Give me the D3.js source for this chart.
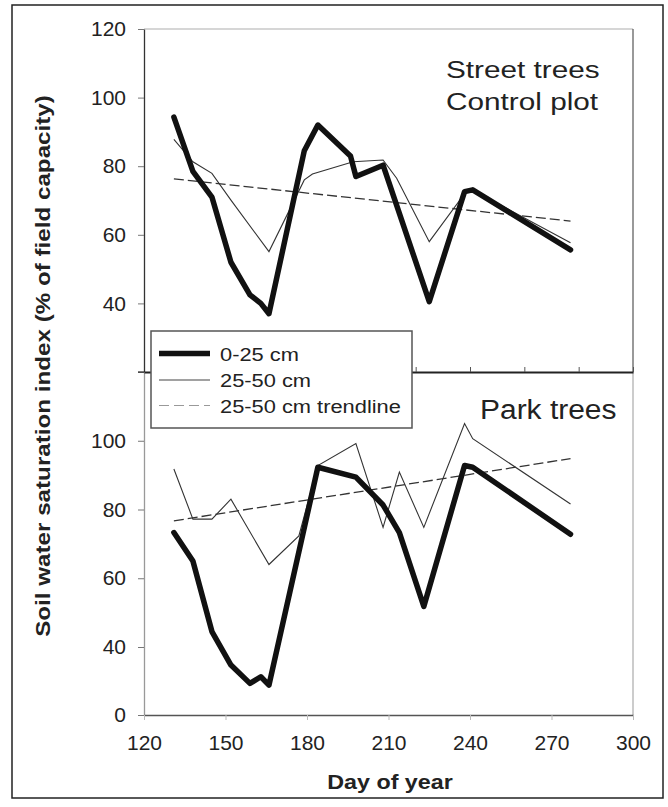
<!DOCTYPE html>
<html>
<head>
<meta charset="utf-8">
<script src="https://cdn.jsdelivr.net/npm/d3@7/dist/d3.min.js"></script>
<style>
  html, body { margin: 0; padding: 0; background: #fff; }
  svg { display: block; }
</style>
</head>
<body>
<svg id="chart" width="668" height="807"></svg>
<script>
// ---------------- DATA ----------------
// Street trees / control plot (top panel)
const streetThickDays = [131,138,145,152,159,163,166,179,184,196,198,208,225,238,241,277];
const streetThickVals = [94.3,78.5,71,52,42.5,40,37,84.5,92,83,77,80.3,40.5,72.6,73.1,55.6];
const streetThinDays  = [131,138,145,152,166,179,182,197,208,213,225,238,241,277];
const streetThinVals  = [87.8,81.3,77.9,70.1,55.1,76,77.7,81.3,81.8,76.5,58,72,73,57.7];
const streetTrendDays = [131,277];
const streetTrendVals = [76.3,64.0];

// Park trees (bottom panel)
const parkThickDays = [131,138,145,152,159,163,166,184,198,208,214,223,238,241,277];
const parkThickVals = [73.3,65,44.5,29.4,18.6,22.5,17.6,92.3,89.4,81.3,73.3,51.8,92.8,92.3,72.8];
const parkThinDays  = [131,138,145,152,166,177,184,198,208,214,223,238,241,277];
const parkThinVals  = [91.8,77.2,77.2,83,64,72.3,92.8,99.2,74.8,90.9,74.8,105,100.6,81.6];
const parkTrendDays = [131,277];
const parkTrendVals = [76.7,94.8];

// Tick labels
const xTickLabels      = ["120","150","180","210","240","270","300"];
const topXTicks        = [220,240,260,280,300];
const topYTickLabels   = ["40","60","80","100","120"];
const botYTickLabels   = ["0","40","60","80","100"];

const legendLabels = ["0-25 cm","25-50 cm","25-50 cm trendline"];
const panelTitles  = ["Street trees","Control plot","Park trees"];
const xTitle = "Day of year";
const yTitle = "Soil water saturation index (% of field capacity)";

// ---------------- LAYOUT ----------------
const svg = d3.select("#chart");
const FONT = "'Liberation Sans', Arial, Helvetica, sans-serif";

const x = d3.scaleLinear().domain([120,300]).range([144,633]);
const yTop = d3.scaleLinear().domain([20,120]).range([372,29]);
const yBot = d3.scaleLinear().domain([0,40,120]).range([715,647,372]);

// outer frame
svg.append("rect").attr("x",12).attr("y",5).attr("width",651).attr("height",793)
  .attr("fill","none").attr("stroke","#222").attr("stroke-width",1.5);

// panel frames
svg.append("line").attr("x1",144).attr("x2",633).attr("y1",29).attr("y2",29)
  .attr("stroke","#c8c8c8").attr("stroke-width",1.5);
svg.append("line").attr("x1",633).attr("x2",633).attr("y1",29).attr("y2",372)
  .attr("stroke","#555").attr("stroke-width",1.2);
svg.append("line").attr("x1",633).attr("x2",633).attr("y1",372).attr("y2",715)
  .attr("stroke","#aaa").attr("stroke-width",1.2);

function styleAxis(g, color, width) {
  g.select(".domain").attr("stroke", color).attr("stroke-width", width);
  g.selectAll(".tick line").attr("stroke", "#777").attr("stroke-width", 1);
  g.selectAll(".tick text").attr("fill","#222").style("font-family", FONT);
}

// top panel y axis
const gTopY = svg.append("g").attr("transform","translate(144,0)")
  .call(d3.axisLeft(yTop)
    .tickValues([20].concat(topYTickLabels.map(Number)))
    .tickSizeInner(6).tickSizeOuter(0).tickPadding(12)
    .tickFormat(d => topYTickLabels.includes(String(d)) ? String(d) : ""));
styleAxis(gTopY, "#333", 1.3);
gTopY.selectAll(".tick text").style("font-size","21px");

// bottom panel y axis
const gBotY = svg.append("g").attr("transform","translate(144,0)")
  .call(d3.axisLeft(yBot)
    .tickValues(botYTickLabels.map(Number))
    .tickSizeInner(6).tickSizeOuter(0).tickPadding(12)
    .tickFormat(d => String(d)));
styleAxis(gBotY, "#999", 1.3);
gBotY.selectAll(".tick text").style("font-size","21px");

// bottom x axis
const gBotX = svg.append("g").attr("transform","translate(0,715)")
  .call(d3.axisBottom(x)
    .tickValues(xTickLabels.map(Number))
    .tickSizeInner(5).tickSizeOuter(0).tickPadding(8)
    .tickFormat(d => String(d)));
styleAxis(gBotX, "#555", 1.5);
gBotX.selectAll(".tick line").attr("stroke","#bbb");
gBotX.selectAll(".tick text").style("font-size","21px").attr("y",35).attr("dy",0);

// ---------------- LINES ----------------
function drawSeries(days, vals, yScale, cls) {
  const pts = days.map((d,i) => [d, vals[i]]);
  const line = d3.line().x(p => x(p[0])).y(p => yScale(p[1]));
  const path = svg.append("path").datum(pts).attr("d", line).attr("fill","none");
  if (cls === "thick") path.attr("stroke","#111").attr("stroke-width",5.5).attr("stroke-linejoin","round").attr("stroke-linecap","round");
  if (cls === "thin")  path.attr("stroke","#333").attr("stroke-width",1.1);
  if (cls === "trend") path.attr("stroke","#333").attr("stroke-width",1.3).attr("stroke-dasharray","10,4");
}
drawSeries(streetTrendDays, streetTrendVals, yTop, "trend");
drawSeries(streetThinDays,  streetThinVals,  yTop, "thin");
drawSeries(streetThickDays, streetThickVals, yTop, "thick");
drawSeries(parkTrendDays, parkTrendVals, yBot, "trend");
drawSeries(parkThinDays,  parkThinVals,  yBot, "thin");
drawSeries(parkThickDays, parkThickVals, yBot, "thick");

// top panel x axis / divider (drawn after lines)
const gTopX = svg.append("g").attr("transform","translate(0,372)")
  .call(d3.axisBottom(x).tickValues(topXTicks).tickSizeInner(-5).tickSizeOuter(0).tickFormat(() => ""));
gTopX.select(".domain").attr("stroke","#222").attr("stroke-width",2);
gTopX.selectAll(".tick line").attr("stroke","#555");
svg.append("line").attr("x1",138).attr("x2",144).attr("y1",372).attr("y2",372).attr("stroke","#333").attr("stroke-width",1.3);

// ---------------- TEXT HELPERS ----------------
function stretchText(str, tx, ty, size, sx, opts = {}) {
  const g = svg.append("g").attr("transform", `translate(${tx},${ty})${opts.rotate ? " rotate(" + opts.rotate + ")" : ""}`);
  g.append("text").attr("transform", `scale(${sx},1)`)
    .attr("text-anchor", opts.anchor || "start")
    .style("font-family", FONT).style("font-size", size + "px")
    .style("font-weight", opts.bold ? "bold" : "normal")
    .attr("fill", "#222").text(str);
  return g;
}

// ---------------- LEGEND ----------------
svg.append("rect").attr("x",151).attr("y",331).attr("width",261).attr("height",97)
  .attr("fill","#fff").attr("stroke","#555").attr("stroke-width",1.5);
const legendY = [353.5, 380, 405.5];
const legendStyles = ["thick","thin","trend"];
legendLabels.forEach((lab, i) => {
  const l = svg.append("line").attr("x1",159).attr("x2",210).attr("y1",legendY[i]).attr("y2",legendY[i]);
  if (legendStyles[i] === "thick") l.attr("stroke","#111").attr("stroke-width",5.5);
  if (legendStyles[i] === "thin")  l.attr("stroke","#444").attr("stroke-width",1.1);
  if (legendStyles[i] === "trend") l.attr("stroke","#999").attr("stroke-width",1.1).attr("stroke-dasharray","10,5");
  stretchText(lab, 220, legendY[i] + 7, 19, 1.15);
});

// ---------------- TITLES ----------------
stretchText(panelTitles[0], 446, 78, 24, 1.24);
stretchText(panelTitles[1], 446, 110, 24, 1.24);
stretchText(panelTitles[2], 480, 419, 28, 1.07);

stretchText(xTitle, 390, 789, 21, 1.11, {anchor:"middle", bold:true});
stretchText(yTitle, 50, 366, 20, 1.21, {anchor:"middle", bold:true, rotate:-90});
</script>
</body>
</html>
